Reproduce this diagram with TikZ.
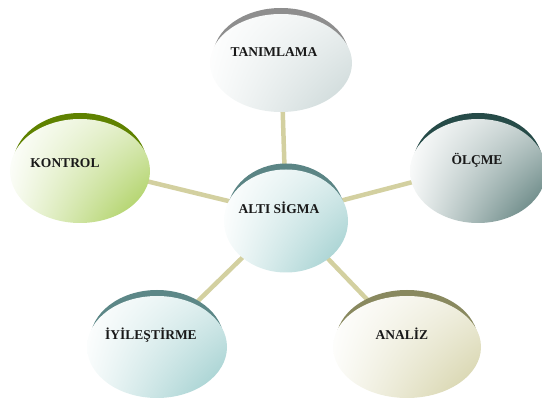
\documentclass[tikz,border=0pt]{standalone}
\usepackage{fontspec}
\setmainfont{Liberation Serif}
\definecolor{Kol}{HTML}{D3D0A0}
\definecolor{TanRim}{HTML}{8E8E8E}
\definecolor{TanFill}{HTML}{C8D5D5}
\definecolor{KonRim}{HTML}{5F8200}
\definecolor{KonFill}{HTML}{A3CB4E}
\definecolor{OlcRim}{HTML}{264B48}
\definecolor{OlcFill}{HTML}{4F7370}
\definecolor{AltRim}{HTML}{5B8585}
\definecolor{AltFill}{HTML}{98CBCB}
\definecolor{IyiRim}{HTML}{5C8787}
\definecolor{IyiFill}{HTML}{98CBCB}
\definecolor{AnaRim}{HTML}{89895F}
\definecolor{AnaFill}{HTML}{D2CFA2}
\usepackage{tikz}
\usetikzlibrary{positioning,shadings}

% x, y, x radius, y radius, rim colour, fill colour
\newcommand{\balon}[6]{%
  \fill[#5] (#1,#2) ellipse [x radius=#3-3, y radius=#4];
  \shade[upper left=white, upper right=#6!35!white, lower left=#6!8!white, lower right=#6]
    (#1,#2+6) ellipse [x radius=#3, y radius=#4];
}

\begin{document}
\begin{tikzpicture}[x=1pt,y=-1pt,
    kol/.style={Kol,line width=4.5pt},
    etiket/.style={font=\fontsize{13.5}{15}\selectfont\bfseries,text=black!90,inner sep=0pt}]
    \clip (0,0) rectangle (542,403);

    % Centres
    \coordinate (altic) at (286,215);
    \coordinate (tanc) at (281,57);
    \coordinate (konc) at (80,165);
    \coordinate (olcc) at (478,165);
    \coordinate (iyic) at (157,341);
    \coordinate (anac) at (407,341);

    % Spokes
    \draw[kol] (altic) -- (tanc);
    \draw[kol] (altic) -- (konc);
    \draw[kol] (altic) -- (olcc);
    \draw[kol] (altic) -- (iyic);
    \draw[kol] (altic) -- (anac);

    % Bubbles
    \balon{281}{57}{71}{49}{TanRim}{TanFill}
    \balon{80}{165}{70}{52}{KonRim}{KonFill}
    \balon{478}{165}{68}{52}{OlcRim}{OlcFill}
    \balon{286}{215}{62}{51.5}{AltRim}{AltFill}
    \balon{157}{341}{70}{51}{IyiRim}{IyiFill}
    \balon{407}{341}{74}{51}{AnaRim}{AnaFill}

    % Labels
    \node[etiket] (tan) at (274,52) {TANIMLAMA};
    \node[etiket] (kon) at (65,163) {KONTROL};
    \node[etiket] (olc) at (477,160) {ÖLÇME};
    \node[etiket] (alt) at (279,208) {ALTI SİGMA};
    \node[etiket] (iyi) at (151,335) {İYİLEŞTİRME};
    \node[etiket] (ana) at (402,334) {ANALİZ};
\end{tikzpicture}
\end{document}
